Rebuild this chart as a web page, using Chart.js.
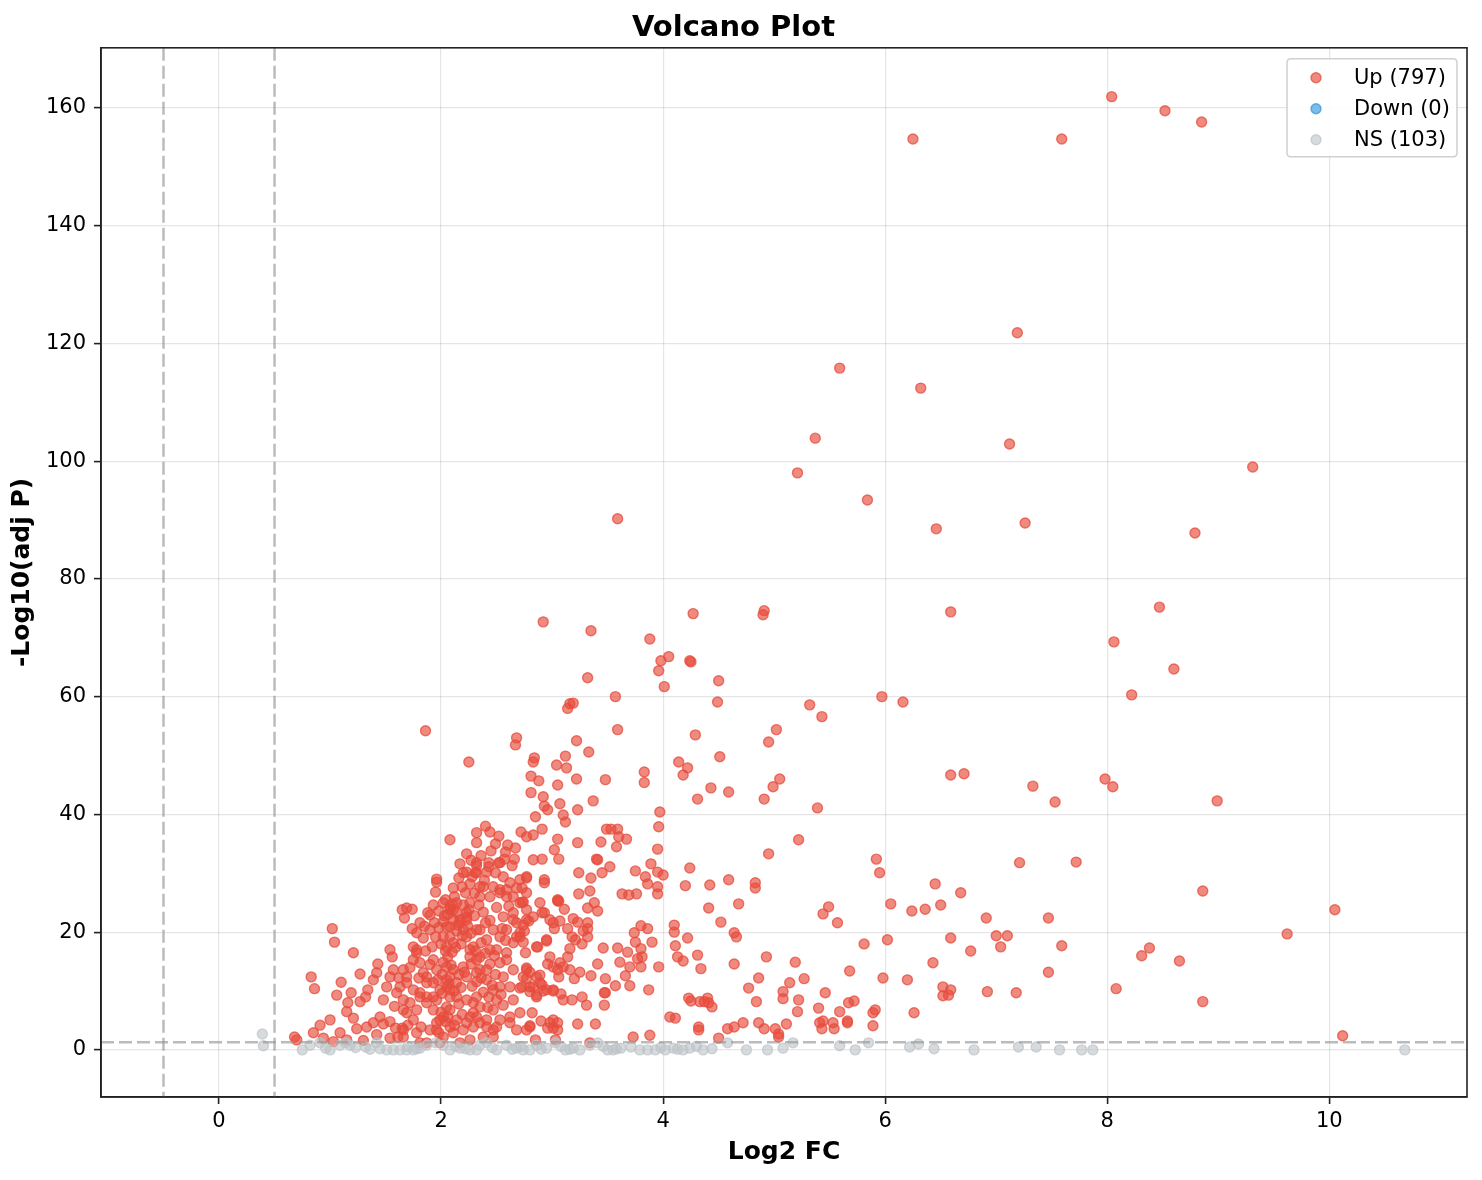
<!DOCTYPE html>
<html>
<head>
<meta charset="utf-8">
<title>Volcano Plot</title>
<script src="https://cdn.jsdelivr.net/npm/chart.js@4.4.1/dist/chart.umd.min.js"></script>
<style>
  html, body { margin: 0; padding: 0; background: #fff; }
  #wrap { width: 1482px; height: 1180px; }
</style>
</head>
<body>
<div id="wrap"><canvas id="volcanoChart" width="1482" height="1180"></canvas></div>
<script>
// Up-regulated genes: [log2 FC, -log10(adj p)]
const upPoints = [
  [8.04,161.9],[8.52,159.5],[8.85,157.6],[6.25,154.7],[7.59,154.7],[7.19,121.8],[5.59,115.8],[6.32,112.4],
  [5.37,103.9],[7.12,102.9],[9.31,99.0],[5.21,98.0],[5.84,93.4],[3.59,90.2],[6.46,88.5],[7.26,89.5],
  [8.79,87.8],[8.47,75.2],[4.91,74.6],[4.90,73.9],[4.27,74.1],[6.59,74.4],[2.92,72.7],[3.35,71.2],
  [3.88,69.8],[8.06,69.3],[4.05,66.8],[3.98,66.1],[4.24,66.1],[4.25,65.9],[8.60,64.7],[3.96,64.4],
  [3.32,63.2],[4.50,62.7],[4.01,61.7],[8.22,60.3],[3.57,60.0],[5.97,60.0],[6.16,59.1],[3.19,58.9],
  [3.16,58.8],[3.14,58.0],[5.32,58.6],[4.49,59.1],[5.43,56.6],[1.86,54.2],[3.59,54.4],[5.02,54.4],
  [4.29,53.5],[2.68,53.0],[2.67,51.8],[4.95,52.3],[3.22,52.5],[3.33,50.6],[3.12,49.9],[2.84,49.6],
  [2.83,48.9],[2.25,48.9],[4.51,49.8],[4.14,48.9],[3.04,48.4],[3.13,47.9],[4.22,47.9],[3.83,47.2],
  [4.18,46.7],[2.81,46.5],[6.59,46.7],[6.71,46.9],[3.48,45.9],[7.98,46.0],[5.05,46.0],[2.88,45.7],
  [3.22,46.0],[3.83,45.4],[7.33,44.8],[8.05,44.7],[4.43,44.5],[4.99,44.7],[4.59,43.8],[3.05,45.0],
  [2.81,43.7],[2.92,43.0],[4.91,42.6],[4.31,42.6],[3.37,42.3],[7.53,42.1],[8.99,42.3],[2.93,41.4],
  [3.07,41.8],[5.39,41.1],[3.97,40.4],[3.23,40.8],[2.96,40.8],[3.10,39.9],[2.85,39.6],[3.12,38.7],
  [3.96,37.9],[3.95,34.1],[3.89,31.6],[3.95,30.2],[4.00,29.7],[4.24,30.9],[2.08,35.7],[2.23,33.3],
  [2.32,36.9],[2.32,35.2],[2.40,38.0],[2.44,37.0],[2.52,36.3],[2.60,34.8],[2.67,34.3],[2.72,37.0],
  [2.77,36.2],[2.83,36.5],[2.91,37.5],[3.05,35.8],[3.23,35.2],[3.44,35.3],[3.49,37.5],[3.53,37.5],
  [3.59,37.5],[3.60,36.2],[3.67,35.8],[3.58,34.5],[3.40,32.4],[3.52,31.1],[3.45,30.1],[3.75,30.4],
  [3.84,29.4],[3.24,30.1],[3.02,34.0],[3.06,32.4],[2.83,32.3],[2.91,32.4],[2.66,32.4],[2.64,31.3],
  [2.57,32.4],[2.52,31.8],[2.32,31.8],[2.32,31.3],[2.43,31.8],[2.43,31.1],[2.23,30.2],[2.77,29.4],
  [2.93,28.9],[1.96,29.0],
  [5.22,35.7],[4.95,33.3],[5.92,32.4],[5.95,30.1],[7.21,31.8],[7.72,31.9],[6.45,28.2],[6.68,26.7],
  [6.05,24.8],[6.24,23.6],[6.36,23.9],[6.50,24.6],[5.44,23.1],[5.49,24.3],[5.57,21.6],[6.91,22.4],
  [7.47,22.4],[7.00,19.4],[7.10,19.4],[7.04,17.5],[6.59,19.0],[6.77,16.8],[6.43,14.8],[6.02,18.7],
  [5.81,18.0],[5.68,13.4],[5.98,12.2],[6.20,11.9],[6.26,6.3],[6.52,10.7],[6.59,10.2],[6.52,9.2],
  [6.57,9.3],[6.92,9.9],[7.18,9.7],[7.47,13.2],[7.59,17.7],[8.08,10.4],[8.31,16.0],[8.38,17.3],
  [8.65,15.1],[8.86,8.2],[8.86,27.0],[9.62,19.7],[10.05,23.8],[10.12,2.4],[5.19,14.9],[5.27,12.1],
  [5.14,11.4],[5.08,9.9],[5.08,8.7],[5.22,8.5],[5.21,6.5],[5.46,9.7],[5.40,7.1],[5.59,6.5],
  [5.67,8.0],[5.72,8.3],[5.41,4.6],[5.43,3.6],[5.54,3.6],[5.53,4.6],[5.44,4.9],[5.66,4.9],
  [5.66,4.6],[5.89,6.3],[5.91,6.8],[5.89,4.1],[5.01,3.6],[5.04,2.7],[5.04,2.2],[5.11,4.4],
  [4.83,28.4],[4.83,27.5],[4.68,24.8],[4.41,24.1],[4.52,21.7],[4.64,19.9],[4.66,19.2],[4.93,15.8],
  [4.64,14.6],[4.86,12.2],[4.77,10.5],[4.84,8.2],[4.86,4.6],[4.91,3.6],[4.72,4.6],[4.64,3.9],
  [4.58,3.6],[4.50,2.0],[4.59,28.9],[4.42,28.0],[4.20,27.9],[3.86,28.2],[3.95,27.7],[3.63,26.5],
  [3.69,26.3],[3.76,26.5],[3.95,26.5],[3.24,26.5],[3.34,27.0],[2.93,28.4],[3.41,32.3],[3.35,29.2],
  [4.10,21.2],[4.10,20.0],[4.22,19.0],[4.11,17.7],[4.13,15.8],[4.18,15.1],[4.31,16.1],[4.34,13.8],
  [4.23,8.8],[4.25,8.3],[4.33,8.2],[4.40,8.8],[4.41,8.0],[4.44,7.3],[4.37,8.2],[4.06,5.6],
  [4.11,5.4],[4.32,3.9],[4.32,3.4],
  [2.73,27.5],[2.73,25.1],[3.05,25.3],[3.06,25.3],[3.11,23.9],[3.32,24.1],[3.38,25.0],[3.41,23.6],
  [2.91,23.3],[2.93,23.3],[2.98,22.1],[2.79,21.9],[2.74,21.2],[2.75,20.2],[3.02,20.6],[3.07,21.9],
  [3.19,22.3],[3.23,21.7],[3.32,21.6],[3.14,20.6],[3.28,20.2],[3.32,20.6],[3.18,19.2],[3.21,18.7],
  [3.27,18.0],[3.32,19.2],[2.95,18.5],[2.87,17.5],[2.74,18.3],[2.76,16.5],[3.16,17.2],[3.14,15.8],
  [2.96,14.6],[3.01,14.1],[3.07,14.8],[3.10,14.1],[3.16,13.6],[3.25,13.2],[3.06,12.4],[3.20,12.1],
  [2.89,12.7],[2.77,13.9],[2.80,13.2],[2.77,12.1],[2.73,10.7],[2.83,10.7],[2.91,11.0],[2.92,10.0],
  [2.80,9.9],[2.86,9.3],[3.01,10.0],[3.08,9.5],[3.10,8.5],[3.18,8.5],[3.27,9.0],[3.31,7.6],
  [2.82,6.3],[2.80,4.1],[2.90,4.9],[2.98,4.6],[3.01,3.7],[3.05,4.6],[2.96,3.7],[3.23,4.4],
  [3.39,4.4],[2.85,1.7],[3.03,1.7],[3.34,1.2],[3.46,17.3],[3.59,17.3],[3.68,16.6],[3.74,19.9],
  [3.80,21.1],[3.86,20.6],[3.90,18.3],[3.75,18.3],[3.80,17.2],[3.81,15.8],[3.77,15.5],[3.61,14.9],
  [3.70,14.1],[3.80,14.1],[3.41,14.6],[3.35,12.6],[3.48,12.1],[3.66,12.6],[3.57,10.9],[3.70,10.9],
  [3.47,9.7],[3.48,9.7],[3.47,7.6],[3.87,10.2],[3.96,14.1],[3.73,2.2],[3.88,2.5],
  [1.02,20.6],[1.04,18.3],[1.21,16.5],[0.83,12.4],[0.86,10.4],[1.10,11.5],[1.06,9.3],[1.19,9.7],
  [1.27,12.9],[0.68,2.2],[0.70,1.7],[0.85,2.9],[0.91,4.2],[1.00,5.1],[0.94,2.0],[1.03,1.4],
  [1.09,2.9],[1.15,1.7],[1.16,8.0],[1.15,6.5],[1.21,5.4],[1.27,8.2],[1.32,9.0],[1.34,10.2],
  [1.39,11.9],[1.42,13.1],[1.43,14.6],[1.24,3.6],[1.33,3.9],[1.39,4.6],[1.45,5.6],[1.48,4.4],
  [1.54,4.8],[1.59,3.7],[1.65,3.7],[1.61,2.2],[1.48,8.5],[1.51,10.7],[1.54,12.4],[1.57,13.6],
  [1.54,17.0],[1.56,15.8],[1.65,23.8],[1.67,22.4],[1.74,23.9],[1.74,20.6],[1.78,19.9],[1.81,21.6],
  [1.66,13.6],[1.69,12.4],[1.63,10.7],[1.60,9.7],[1.66,8.5],[1.72,8.0],[1.69,6.3],[1.75,5.1],
  [1.75,17.5],[1.78,16.5],[1.81,14.8],[1.84,13.1],[1.87,11.4],[1.81,9.7],[1.87,9.0],[1.88,23.3],
  [1.95,26.8],[1.96,28.5],[1.90,20.4],[1.95,19.2],[1.92,17.5],[1.93,15.3],[1.96,13.6],[1.97,11.9],
  [1.99,10.2],[1.96,8.5],[1.93,6.8],[1.99,5.1],[1.96,3.4],[2.04,25.5],[2.08,23.8],[2.11,22.1],
  [2.05,20.9],[2.08,19.2],[2.05,17.5],[2.06,15.8],[2.05,14.1],[2.08,12.4],[2.05,10.7],[2.08,9.0],
  [2.05,7.3],[2.06,5.6],[2.08,3.9],[2.19,27.7],[2.22,26.7],[2.26,25.0],[2.23,23.3],[2.17,22.1],
  [2.31,30.1],[2.53,31.8],[2.35,27.7],[2.47,27.7],[2.53,27.2],[2.62,28.4],[2.71,28.9],[2.77,29.2],
  [2.20,20.4],[2.23,19.2],[2.29,17.5],[2.32,15.3],[2.35,13.6],[2.41,11.9],[2.47,10.2],[2.50,8.5],
  [2.47,6.8],[2.41,5.1],[2.47,3.4],[2.11,23.8],[2.14,25.0],[2.23,22.1],[2.35,20.4],[2.41,18.7],
  [2.50,17.0],[2.59,15.3],[2.65,13.6],[2.74,12.4],[2.80,10.7],[2.86,9.0],[2.65,8.5],[2.71,6.3],
  [2.62,4.6],[2.77,3.4],[2.59,27.2],[2.65,26.0],[2.71,25.0],[2.77,23.8],[2.83,22.6],[2.65,22.1],
  [2.59,20.4],[2.68,19.2],
  [2.11,27.5],[2.20,30.1],[2.28,29.4],[2.32,30.1],[2.41,30.2],[2.49,30.1],[2.56,29.4],[2.68,27.5],
  [2.77,26.7],[2.74,25.1],[2.59,26.0],[2.53,26.7],[2.38,27.7],[2.35,26.0],[2.44,26.0],[1.69,24.1],
  [1.90,22.9],[1.78,17.0],[1.75,15.3],[2.02,25.0],[2.08,24.3],[2.14,23.3],[2.23,22.6],[2.17,21.6],
  [2.08,20.9],[2.02,19.2],[2.11,18.2],[2.32,20.4],[2.47,20.4],[2.53,19.2],[2.44,17.0],[2.35,15.8],
  [2.26,15.8],[2.20,14.1],[2.11,13.6],[2.05,11.9],[2.14,11.4],[2.23,12.4],[2.32,13.1],[2.41,13.6],
  [2.53,14.8],[2.59,16.5],[2.65,18.2],[2.71,19.2],[1.69,11.4],[1.75,10.2],[1.81,9.0],[1.66,6.8],
  [1.78,6.8],[1.87,8.0],[1.93,9.0],[1.93,11.4],[1.87,12.4],[2.08,10.2],[2.14,9.0],[2.23,8.5],
  [2.32,9.0],[2.35,7.3],[2.29,6.3],[2.23,4.6],[2.14,5.1],[2.08,6.8],[2.02,5.6],[1.96,4.6],
  [1.90,3.4],[1.98,2.9],[2.11,2.9],[2.20,3.4],[2.29,3.9],[2.35,4.6],[2.41,3.9],[2.50,3.9],
  [2.47,2.2],[2.38,2.2],[2.53,10.7],[2.62,10.7],[2.71,10.5],[2.89,11.4],[2.95,10.2],[2.77,13.6],
  [2.86,12.4],[3.05,13.6],[3.01,10.2],[2.98,15.8],[2.86,17.5],[2.95,18.7],[2.71,19.9],[2.77,22.1],
  [2.68,21.6],[2.65,23.3],[3.01,21.6],[3.05,25.5],[2.89,25.0],[2.53,5.1],[2.62,5.6],[2.80,3.9],
  [3.01,5.1],[3.05,3.4],[2.68,3.4],[2.32,5.6],[1.66,3.4],[1.66,2.2],[1.78,2.9],[1.81,1.2],
  [1.87,1.2],[2.02,2.2],[1.99,1.2],[2.17,1.2],[2.26,1.7],
  [2.14,20.2],[2.18,18.0],[2.26,17.0],[2.30,22.8],[2.38,23.4],[2.44,22.0],[2.50,24.2],[2.56,22.6],
  [2.03,22.8],[2.10,16.6],[2.16,12.8],[2.28,10.8],[2.38,9.8],[2.44,14.6],[2.56,12.4],[2.00,18.0],
  [2.36,18.2],[2.48,16.0],[2.20,24.6],[2.12,26.0],[2.30,26.6],[2.58,18.6],[1.98,23.6],[2.04,16.8],
  [2.16,7.8],[2.26,5.6],[2.42,7.2],[2.56,7.6],[2.02,14.9],[2.24,21.0],[2.32,11.6],[2.40,16.4],
  [1.90,14.5],[1.86,16.8],[1.84,19.0],[1.94,21.6],[2.46,11.0],[2.54,9.4],
  [1.98,20.8],[2.02,21.8],[2.06,23.0],[2.10,24.8],[2.15,21.2],[2.19,19.4],[2.13,17.4],[2.09,14.4],
  [2.01,12.8],[2.07,11.2],[2.12,10.0],[2.18,10.6],[2.21,13.2],[2.27,14.6],[2.31,16.8],[2.27,19.8],
  [2.25,23.8],[2.34,24.6],[2.40,21.6],[2.36,12.2],[2.29,8.0],[2.19,6.0],[2.12,4.2],[2.04,4.8],
  [2.00,6.4],[2.01,9.6],[2.43,9.0],[2.49,12.8],[2.55,20.6],[2.61,24.4],[2.39,28.8],[2.26,28.2],
  [2.16,29.2],[2.45,33.8],[2.36,33.0],[2.27,32.2],[2.58,33.6],[2.49,35.0],[2.17,31.6],[1.93,24.6],
  [1.85,21.0],[1.80,12.2],[1.72,14.0],[1.62,12.2],[1.58,7.4],[1.70,4.2],[1.82,3.9],[1.54,2.0],
  [1.42,2.6],[1.30,1.6]
];

// Down-regulated genes: none in this data
const downPoints = [];

// Not significant genes
const nsPoints = [
  [0.39,2.7],[0.40,0.7],[0.75,0.0],[0.82,0.8],[0.91,1.2],[1.00,0.0],[1.09,0.8],[1.14,1.2],
  [1.18,0.8],[1.32,0.5],[1.42,1.2],[1.51,0.0],[1.57,0.0],[1.63,0.0],[1.69,0.0],[1.75,0.0],
  [1.81,0.3],[1.87,0.8],[1.95,1.2],[2.02,0.8],[2.08,0.0],[2.17,0.3],[2.26,0.0],[2.32,0.0],
  [2.35,0.8],[2.41,1.2],[2.50,0.0],[2.59,0.8],[2.68,0.3],[2.74,0.0],[2.80,0.0],[2.86,0.8],
  [2.95,0.3],[3.03,1.2],[3.12,0.0],[3.19,0.3],[3.25,0.0],[3.34,0.8],[3.41,1.2],[3.50,0.0],
  [3.55,0.0],[3.62,0.3],[3.71,0.5],[3.79,0.0],[3.86,0.0],[3.93,0.0],[4.02,0.0],[4.09,0.3],
  [4.18,0.0],[4.24,0.3],[4.36,0.0],[4.58,1.2],[4.75,0.0],[4.94,0.0],[5.08,0.3],[5.17,1.2],
  [5.59,0.7],[5.73,0.0],[5.85,1.2],[6.22,0.5],[6.30,1.0],[6.44,0.2],[6.80,0.0],[7.20,0.5],
  [7.36,0.5],[7.57,0.0],[7.77,0.0],[7.87,0.0],[10.68,0.0],
  [1.45,0.2],[1.70,0.6],[1.78,0.2],[2.13,0.6],[2.22,0.2],[2.46,0.4],[2.64,0.1],[2.72,0.6],
  [2.90,0.1],[3.08,0.6],[3.16,0.1],[3.46,0.6],[3.58,0.2],[3.98,0.4],[4.13,0.1],[4.30,0.6],
  [4.44,0.2],[1.23,0.4],[0.96,0.3],[1.36,0.1]
];

const seriesNames = ['Up (797)', 'Down (0)', 'NS (103)'];
const xTickValues = [0, 2, 4, 6, 8, 10];
const yTickValues = [0, 20, 40, 60, 80, 100, 120, 140, 160];
const fcCutoffs = [-0.5, 0.5];
const pCutoff = 1.3;

const FONT = "'DejaVu Sans', 'Liberation Sans', sans-serif";
const seriesColors = [
  { fill: 'rgba(231,76,60,0.65)', edge: 'rgba(231,76,60,0.75)' },
  { fill: 'rgba(52,152,219,0.65)', edge: 'rgba(52,152,219,0.75)' },
  { fill: 'rgba(189,195,199,0.6)', edge: 'rgba(189,195,199,0.7)' }
];

function toXY(points) {
  return points.map(p => ({ x: p[0], y: p[1] }));
}

// Dashed cut-off lines, drawn through the chart scales
const cutoffLines = {
  id: 'cutoffLines',
  afterDatasetsDraw(chart) {
    const { ctx, chartArea, scales } = chart;
    ctx.save();
    ctx.beginPath();
    ctx.rect(chartArea.left, chartArea.top, chartArea.width, chartArea.height);
    ctx.clip();
    ctx.strokeStyle = 'rgba(150,150,150,0.65)';
    ctx.lineWidth = 2.5;
    ctx.setLineDash([13, 5]);
    fcCutoffs.forEach(v => {
      const px = scales.x.getPixelForValue(v);
      ctx.beginPath();
      ctx.moveTo(px, chartArea.top);
      ctx.lineTo(px, chartArea.bottom);
      ctx.stroke();
    });
    const py = scales.y.getPixelForValue(pCutoff);
    ctx.beginPath();
    ctx.moveTo(chartArea.left, py);
    ctx.lineTo(chartArea.right, py);
    ctx.stroke();
    ctx.restore();
  }
};

// Frame on all four sides plus the inset legend
const frameAndLegend = {
  id: 'frameAndLegend',
  afterDraw(chart) {
    const { ctx, chartArea } = chart;
    ctx.save();
    ctx.strokeStyle = '#222';
    ctx.lineWidth = 1.6;
    ctx.strokeRect(chartArea.left, chartArea.top, chartArea.width, chartArea.height);

    const boxW = 170, boxH = 98, r = 4;
    const bx = chartArea.right - 10 - boxW;
    const by = chartArea.top + 11;
    ctx.beginPath();
    ctx.moveTo(bx + r, by);
    ctx.lineTo(bx + boxW - r, by);
    ctx.quadraticCurveTo(bx + boxW, by, bx + boxW, by + r);
    ctx.lineTo(bx + boxW, by + boxH - r);
    ctx.quadraticCurveTo(bx + boxW, by + boxH, bx + boxW - r, by + boxH);
    ctx.lineTo(bx + r, by + boxH);
    ctx.quadraticCurveTo(bx, by + boxH, bx, by + boxH - r);
    ctx.lineTo(bx, by + r);
    ctx.quadraticCurveTo(bx, by, bx + r, by);
    ctx.closePath();
    ctx.fillStyle = 'rgba(255,255,255,0.85)';
    ctx.fill();
    ctx.strokeStyle = '#d0d0d0';
    ctx.lineWidth = 1.5;
    ctx.stroke();

    ctx.font = '21px ' + FONT;
    ctx.textBaseline = 'middle';
    ctx.textAlign = 'left';
    seriesNames.forEach((name, i) => {
      const cy = by + 19 + i * 31;
      ctx.beginPath();
      ctx.arc(bx + 29, cy, 5, 0, Math.PI * 2);
      ctx.fillStyle = seriesColors[i].fill;
      ctx.fill();
      ctx.lineWidth = 1.4;
      ctx.strokeStyle = seriesColors[i].edge;
      ctx.stroke();
      ctx.fillStyle = '#000';
      ctx.fillText(name, bx + 67, cy + 1);
    });
    ctx.restore();
  }
};

function makeDataset(label, points, colors, order) {
  return {
    label: label,
    data: toXY(points),
    backgroundColor: colors.fill,
    borderColor: colors.edge,
    borderWidth: 1.4,
    pointRadius: 5,
    pointHoverRadius: 5,
    order: order
  };
}

const ctx = document.getElementById('volcanoChart').getContext('2d');
new Chart(ctx, {
  type: 'scatter',
  data: {
    datasets: [
      makeDataset(seriesNames[0], upPoints, seriesColors[0], 3),
      makeDataset(seriesNames[1], downPoints, seriesColors[1], 2),
      makeDataset(seriesNames[2], nsPoints, seriesColors[2], 1)
    ]
  },
  options: {
    responsive: false,
    animation: false,
    devicePixelRatio: 1,
    layout: { padding: { left: 0, right: 15, top: 0, bottom: 0 } },
    plugins: {
      legend: { display: false },
      tooltip: { enabled: false },
      title: {
        display: true,
        text: 'Volcano Plot',
        color: '#000',
        font: { family: FONT, size: 29, weight: 'bold' },
        padding: { top: 11, bottom: 2 }
      }
    },
    scales: {
      x: {
        type: 'linear',
        min: -1.063,
        max: 11.24,
        afterFit(scale) { scale.height = 83; },
        afterBuildTicks(scale) { scale.ticks = xTickValues.map(v => ({ value: v })); },
        ticks: {
          color: '#000',
          font: { family: FONT, size: 21 },
          padding: 5,
          maxRotation: 0,
          callback: v => v
        },
        grid: {
          color: 'rgba(0,0,0,0.1)',
          lineWidth: 1.2,
          drawTicks: true,
          tickLength: 7,
          tickColor: '#222',
          tickWidth: 1.6
        },
        border: { display: true, color: '#222', width: 1.6 },
        title: {
          display: true,
          text: 'Log2 FC',
          color: '#000',
          font: { family: FONT, size: 25, weight: 'bold' },
          padding: { top: 4, bottom: 13 }
        }
      },
      y: {
        type: 'linear',
        min: -8,
        max: 170.2,
        afterFit(scale) { scale.width = 101; },
        afterBuildTicks(scale) { scale.ticks = yTickValues.map(v => ({ value: v })); },
        ticks: {
          color: '#000',
          font: { family: FONT, size: 21 },
          padding: 8,
          callback: v => v
        },
        grid: {
          color: 'rgba(0,0,0,0.1)',
          lineWidth: 1.2,
          drawTicks: true,
          tickLength: 7,
          tickColor: '#222',
          tickWidth: 1.6
        },
        border: { display: true, color: '#222', width: 1.6 },
        title: {
          display: true,
          text: '-Log10(adj P)',
          color: '#000',
          font: { family: FONT, size: 25, weight: 'bold' },
          padding: { top: 7, bottom: 4 }
        }
      }
    }
  },
  plugins: [cutoffLines, frameAndLegend]
});
</script>
</body>
</html>
